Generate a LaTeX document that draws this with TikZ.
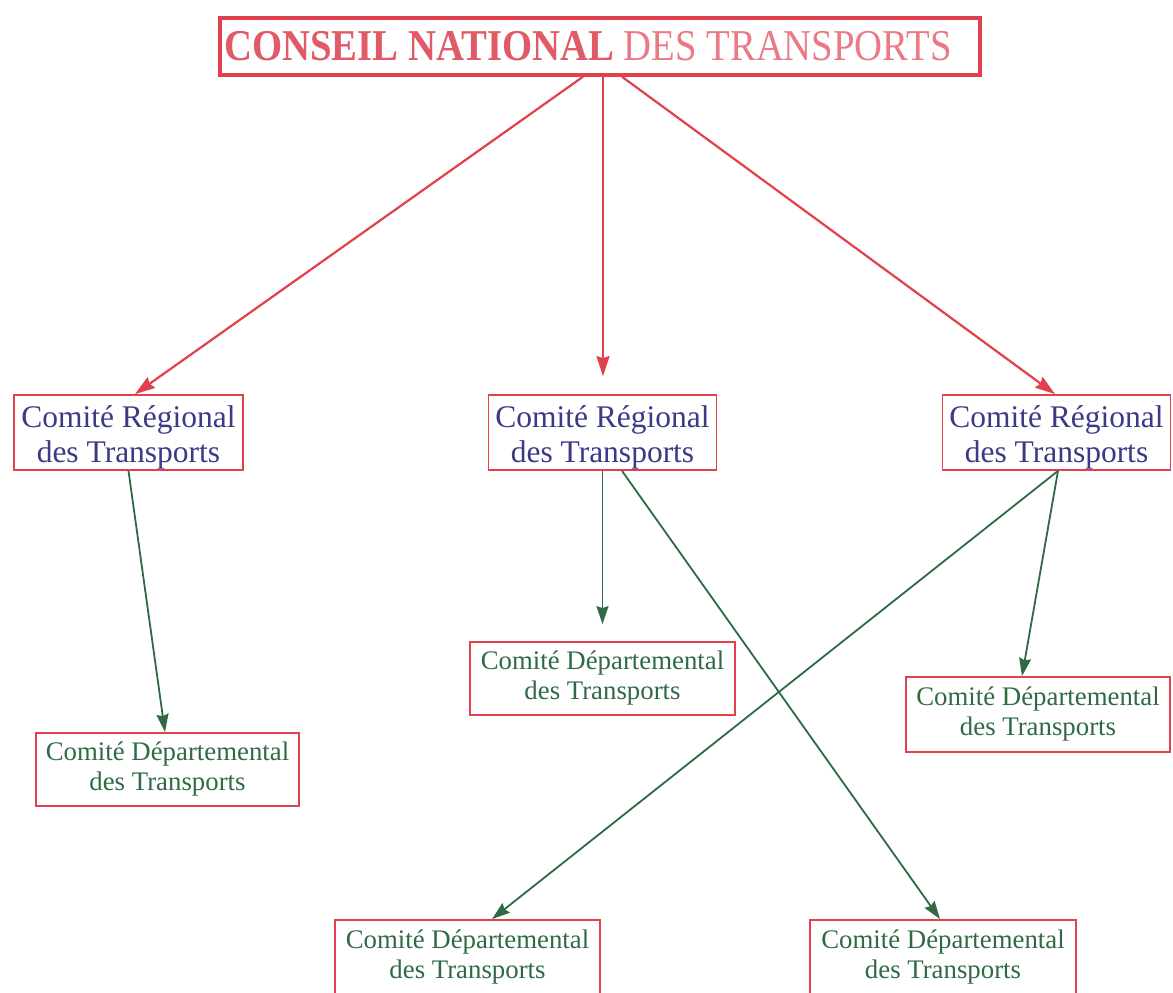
\documentclass[tikz,border=0pt]{standalone}
\usepackage{fontspec}
\setmainfont{Liberation Serif}
\newfontfamily\titlefont[FakeStretch=0.88]{Liberation Serif}
\usetikzlibrary{arrows.meta}
\definecolor{cntred}{HTML}{E2404C}
\definecolor{cntpink}{HTML}{E05A68}
\definecolor{cntlight}{HTML}{E97A86}
\definecolor{crtblue}{HTML}{3A3A86}
\definecolor{cdtgreen}{HTML}{2F6A45}
\tikzset{
  titlebox/.style={draw=cntred, line width=3.5pt, minimum width=760pt, minimum height=57pt, inner sep=0pt},
  crtbox/.style={draw=cntred, line width=1.8pt, minimum width=228pt, minimum height=75pt, inner sep=0pt,
    align=center, text=crtblue, font=\fontsize{31.5}{35}\selectfont},
  cdtbox/.style={draw=cntred, line width=1.8pt, minimum width=265pt, minimum height=73pt, inner sep=0pt,
    align=center, text=cdtgreen, font=\fontsize{26.8}{30}\selectfont},
  redarrow/.style={draw=cntred, line width=2.2pt, -{Stealth[length=20pt,width=13pt,inset=2pt]}},
  greenarrow/.style={draw=cdtgreen, line width=1.8pt, -{Stealth[length=18pt,width=12pt,inset=2pt]}}
}
\newcommand{\crttext}{\rule{0pt}{31pt}Comité Régional\\des Transports}
\newcommand{\cdttext}{Comité Départemental\\des Transports}
\begin{document}
\begin{tikzpicture}[x=1pt,y=-1pt]
  \useasboundingbox[fill=white] (0,0) rectangle (1173,993);
  % conseil national
  \node[titlebox] (cnt) at (600,46.5)
    {\titlefont\fontsize{44}{48}\selectfont\textcolor{cntpink}{\bfseries CONSEIL NATIONAL} \textcolor{cntlight}{DES TRANSPORTS}\hspace*{24pt}};
  % comites regionaux
  \node[crtbox, minimum width=229pt] (crt1) at (128.5,432.5) {\crttext};
  \node[crtbox] (crt2) at (602.5,432.5) {\crttext};
  \node[crtbox] (crt3) at (1056.5,432.5) {\crttext};
  % comites departementaux
  \node[cdtbox, minimum width=263pt] (cdt1) at (167.5,769.5) {\cdttext};
  \node[cdtbox] (cdt2) at (602.5,678.5) {\cdttext};
  \node[cdtbox, minimum width=264pt, minimum height=75pt] (cdt3) at (1038,714.5) {\cdttext};
  \node[cdtbox, minimum height=75pt] (cdt4) at (467.5,957.5) {\cdttext};
  \node[cdtbox, minimum width=266pt, minimum height=75pt] (cdt5) at (943,957.5) {\cdttext};
  % liaisons
  \draw[redarrow] ([xshift=-17pt]cnt.south) -- ([xshift=6.5pt]crt1.north);
  \draw[redarrow, shorten >=18pt] ([xshift=3pt]cnt.south) -- ([xshift=0.5pt]crt2.north);
  \draw[redarrow] ([xshift=22pt]cnt.south) -- ([xshift=-1.5pt]crt3.north);
  \draw[greenarrow] (crt1.south) -- ([xshift=-2.5pt]cdt1.north);
  \draw[greenarrow, shorten >=17pt] (crt2.south) -- (cdt2.north);
  \draw[greenarrow] ([xshift=19.5pt]crt2.south) -- ([xshift=-3pt]cdt5.north);
  \draw[greenarrow] ([xshift=1.5pt]crt3.south) -- ([xshift=24.5pt]cdt4.north);
  \draw[greenarrow] ([xshift=1.5pt]crt3.south) -- ([xshift=-16pt]cdt3.north);
\end{tikzpicture}
\end{document}
